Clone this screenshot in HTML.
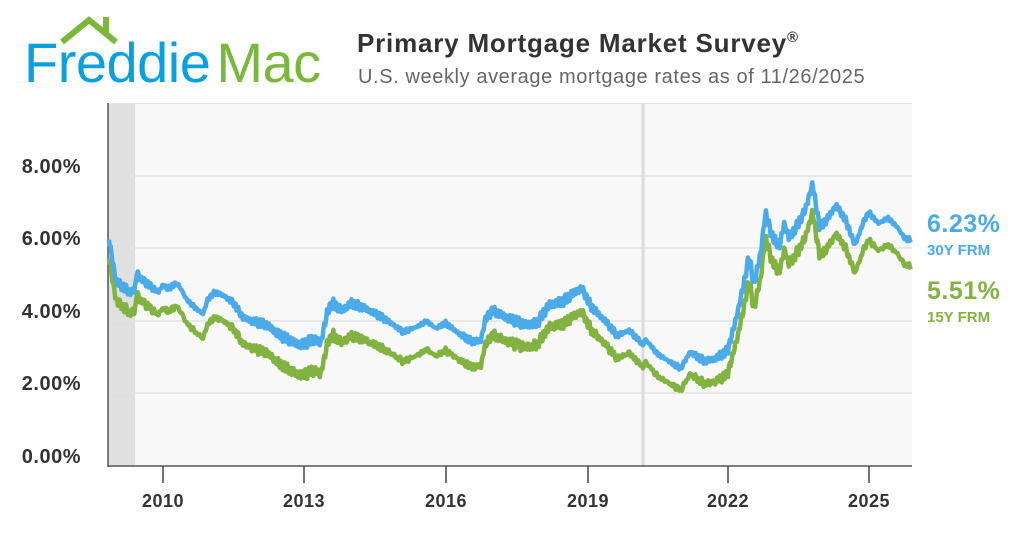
<!DOCTYPE html>
<html><head><meta charset="utf-8"><style>
html,body{margin:0;padding:0;background:#fff;width:1024px;height:538px;overflow:hidden}
svg{display:block}
text{font-family:"Liberation Sans",sans-serif}
</style></head><body>
<svg id="s" width="1024" height="538" viewBox="0 0 1024 538">
<rect x="108" y="103" width="804" height="363" fill="#f8f8f8"/>
<rect x="108" y="103" width="27" height="363" fill="#e0e0e0"/>
<rect x="108" y="103" width="804" height="1" fill="#e4e4e4"/>
<g stroke="#e2e2e2" stroke-width="1.5">
<line x1="108" x2="912" y1="176" y2="176"/><line x1="108" x2="912" y1="248" y2="248"/>
<line x1="108" x2="912" y1="321" y2="321"/><line x1="108" x2="912" y1="393" y2="393"/>
</g>
<line x1="643" x2="643" y1="103" y2="466" stroke="#dcdcdc" stroke-width="3"/>
<line x1="108" x2="108" y1="103" y2="467" stroke="#555" stroke-width="1.5"/>
<line x1="108" x2="912" y1="466" y2="466" stroke="#555" stroke-width="1.5"/>
<g stroke="#444" stroke-width="1.5">
<line x1="163" x2="163" y1="466" y2="483"/><line x1="304" x2="304" y1="466" y2="483"/>
<line x1="446" x2="446" y1="466" y2="483"/><line x1="588" x2="588" y1="466" y2="483"/>
<line x1="728" x2="728" y1="466" y2="483"/><line x1="869" x2="869" y1="466" y2="483"/>
</g>
<g font-size="20" font-weight="bold" fill="#333" text-anchor="end" letter-spacing="0.5">
<text x="81" y="173">8.00%</text><text x="81" y="245">6.00%</text>
<text x="81" y="318">4.00%</text><text x="81" y="390">2.00%</text><text x="81" y="463">0.00%</text>
</g>
<g font-size="18" font-weight="bold" fill="#333" text-anchor="middle" letter-spacing="0.5">
<text x="163" y="507">2010</text><text x="304" y="507">2013</text><text x="446" y="507">2016</text>
<text x="588" y="507">2019</text><text x="728" y="507">2022</text><text x="869" y="507">2025</text>
</g>
<polyline id="g15" fill="none" stroke="#82b341" stroke-width="4.5" stroke-linejoin="round"/>
<polyline id="g30" fill="none" stroke="#4aabe8" stroke-width="4.5" stroke-linejoin="round"/>
<text x="927" y="232" font-size="25" font-weight="bold" fill="#4aabe8" letter-spacing="0.5">6.23%</text>
<text x="927" y="255" font-size="15" font-weight="bold" fill="#4aabe8">30Y FRM</text>
<text x="927" y="299" font-size="25" font-weight="bold" fill="#82b341" letter-spacing="0.5">5.51%</text>
<text x="927" y="322" font-size="15" font-weight="bold" fill="#82b341">15Y FRM</text>
<text x="357" y="52" font-size="26" font-weight="bold" fill="#333" letter-spacing="0.8">Primary Mortgage Market Survey<tspan font-size="15" dy="-10">®</tspan></text>
<text x="358" y="83" font-size="20" fill="#666" letter-spacing="0.6">U.S. weekly average mortgage rates as of 11/26/2025</text>
<polyline points="62,42 89,20 116,42" fill="none" stroke="#7ab83c" stroke-width="6"/>
<rect x="103" y="17" width="6" height="15" fill="#7ab83c"/>
<text x="24" y="82" font-size="56" fill="#0aa0e0" letter-spacing="-0.5">Freddie<tspan fill="#7ab83c" dx="6">Mac</tspan></text>
</svg>
<script>
var k=[[2008.85,6.3],[2008.95,5.5],[2009.0,5.1],[2009.1,5.0],[2009.3,4.8],[2009.4,4.85],[2009.45,5.4],[2009.5,5.2],[2009.6,5.1],[2009.8,4.9],[2009.9,4.8],[2010.0,5.0],[2010.1,4.9],[2010.3,5.05],[2010.4,4.85],[2010.5,4.6],[2010.7,4.35],[2010.85,4.2],[2010.95,4.6],[2011.1,4.8],[2011.3,4.7],[2011.5,4.5],[2011.7,4.1],[2011.9,4.0],[2012.2,3.9],[2012.5,3.6],[2012.8,3.4],[2012.95,3.35],[2013.2,3.5],[2013.35,3.4],[2013.5,4.3],[2013.6,4.5],[2013.8,4.3],[2014.0,4.5],[2014.3,4.35],[2014.6,4.15],[2014.9,3.9],[2015.1,3.7],[2015.4,3.85],[2015.6,4.0],[2015.8,3.8],[2016.0,3.95],[2016.3,3.65],[2016.55,3.45],[2016.75,3.45],[2016.85,4.05],[2017.0,4.3],[2017.3,4.1],[2017.7,3.9],[2017.95,3.95],[2018.2,4.45],[2018.5,4.55],[2018.8,4.85],[2018.9,4.9],[2019.1,4.4],[2019.4,4.0],[2019.65,3.6],[2019.9,3.75],[2020.2,3.35],[2020.25,3.5],[2020.5,3.1],[2020.8,2.85],[2021.0,2.7],[2021.2,3.15],[2021.5,2.9],[2021.7,2.95],[2021.9,3.1],[2022.0,3.2],[2022.2,4.2],[2022.35,5.1],[2022.45,5.8],[2022.55,5.0],[2022.7,5.9],[2022.8,7.0],[2022.95,6.3],[2023.1,6.1],[2023.2,6.7],[2023.3,6.3],[2023.5,6.7],[2023.65,7.1],[2023.8,7.8],[2023.95,6.6],[2024.1,6.8],[2024.3,7.2],[2024.5,6.8],[2024.7,6.1],[2024.9,6.8],[2025.0,7.0],[2025.2,6.7],[2025.4,6.85],[2025.6,6.6],[2025.75,6.3],[2025.9,6.23]];
var d=[[2008.8,0.5],[2009.5,0.6],[2010.5,0.65],[2012,0.75],[2013,0.85],[2014,0.9],[2016,0.75],[2018,0.6],[2019,0.65],[2021,0.6],[2022,0.65],[2023,0.7],[2024,0.8],[2025.9,0.72]];
function interp(a,t){for(var i=1;i<a.length;i++){if(t<=a[i][0]){var f=(t-a[i-1][0])/(a[i][0]-a[i-1][0]);return a[i-1][1]+f*(a[i][1]-a[i-1][1]);}}return a[a.length-1][1];}
var p30=[],p15=[];
for(var t=2008.85;t<=2025.9;t+=1/52){var v=interp(k,t)+0.07*Math.sin(t*97)+0.05*Math.sin(t*231)+0.03*Math.sin(t*411);var x=163+(t-2010)*47.07;var w=v-interp(d,t)+0.02*Math.sin(t*53);
p30.push(x.toFixed(1)+","+(466-v*36.2).toFixed(1));p15.push(x.toFixed(1)+","+(466-w*36.2).toFixed(1));}
document.getElementById("g30").setAttribute("points",p30.join(" "));
document.getElementById("g15").setAttribute("points",p15.join(" "));
</script>
</body></html>
